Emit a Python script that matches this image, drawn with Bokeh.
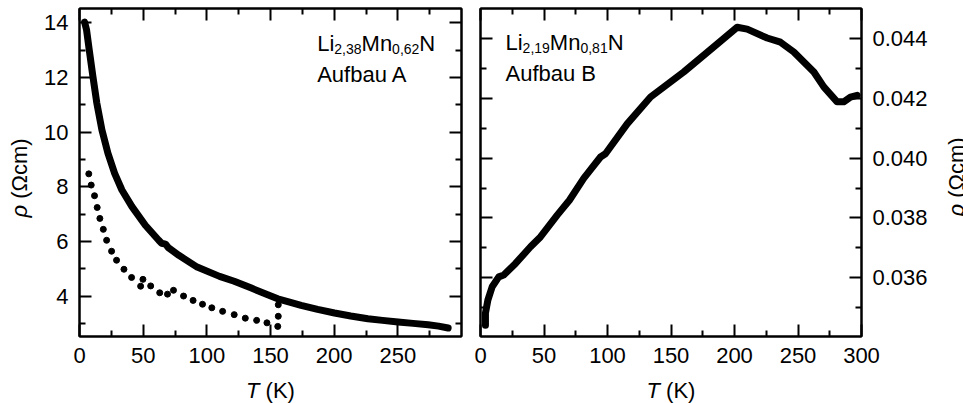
import math
from bokeh.plotting import figure
from bokeh.layouts import row, column
from bokeh.models import FixedTicker, LinearAxis, Label, Range1d, PrintfTickFormatter
from bokeh.embed import file_html
from bokeh.resources import INLINE

# ---------------- data ----------------
# Panel A: Li2,38Mn0,62N, Aufbau A  (T in K, rho in Ohm cm)
T_A = [4.0, 5.5, 7.6, 10.5, 13.6, 17.6, 22.3, 27.6, 33.3, 41.2, 51.7, 62.2, 64.5,
       67.5, 70.0, 78.0, 92.4, 110.0, 121.5, 135.0, 147.8, 155.7, 165.0, 174.0,
       187.0, 200.3, 213.0, 226.5, 238.0, 250.2, 262.0, 273.8, 282.0, 289.5]
rho_A = [14.02, 13.75, 13.02, 12.04, 11.06, 10.08, 9.23, 8.49, 7.88, 7.27, 6.59, 6.04, 5.93,
         5.90, 5.76, 5.49, 5.06, 4.72, 4.54, 4.29, 4.05, 3.90, 3.78, 3.66,
         3.51, 3.38, 3.27, 3.17, 3.11, 3.05, 3.00, 2.95, 2.90, 2.83]
# second (dotted) measurement in panel A
T_A_dots = [7.3, 9.2, 11.8, 13.9, 16.0, 18.7, 21.3, 25.2, 29.1, 34.9, 40.9, 48.0, 49.8,
            55.9, 63.0, 69.1, 73.8, 81.7, 89.2, 96.6, 103.9, 112.4, 121.5, 130.2,
            139.1, 147.2, 155.7, 156.1, 156.1]
rho_A_dots = [8.47, 8.06, 7.67, 7.24, 6.84, 6.44, 6.04, 5.64, 5.31, 4.98, 4.68, 4.36, 4.61,
              4.37, 4.12, 4.07, 4.21, 4.00, 3.84, 3.70, 3.57, 3.44, 3.32, 3.19,
              3.11, 3.02, 2.89, 3.26, 3.68]
# Panel B: Li2,19Mn0,81N, Aufbau B
T_B = [3.9, 3.9, 5.8, 9.2, 14.4, 18.3, 27.6, 39.4, 47.2, 60.4, 70.0, 81.4, 94.5, 98.4,
       115.5, 133.9, 160.0, 186.4, 202.1, 210.0, 225.7, 236.2, 246.7, 262.5, 270.3,
       280.8, 286.0, 291.3, 296.6]
rho_B = [0.0344, 0.0348, 0.03524, 0.03569, 0.03602, 0.03608, 0.03647, 0.03703, 0.03736,
         0.03809, 0.03859, 0.03933, 0.04004, 0.04015, 0.04115, 0.04205, 0.04289, 0.04383,
         0.04439, 0.04433, 0.04403, 0.04389, 0.04356, 0.04289, 0.04239, 0.04189, 0.04189,
         0.04205, 0.04211]

# ticks
x_major_A = [0, 50, 100, 150, 200, 250]
x_minor_A = [25, 75, 125, 175, 225, 275]
x_major_B = [0, 50, 100, 150, 200, 250, 300]
x_minor_B = [25, 75, 125, 175, 225, 275]
y_major_A = [4, 6, 8, 10, 12, 14]
y_minor_A = [3, 5, 7, 9, 11, 13]
y_major_B = [0.036, 0.038, 0.040, 0.042, 0.044]
y_minor_B = [0.035, 0.037, 0.039, 0.041, 0.043]

# texts
formula_A = [("Li", False), ("2,38", True), ("Mn", False), ("0,62", True), ("N", False)]
formula_B = [("Li", False), ("2,19", True), ("Mn", False), ("0,81", True), ("N", False)]
setup_A = "Aufbau A"
setup_B = "Aufbau B"
x_title = ("T", "(K)")      # italic symbol, unit (separated by a space)
y_title = ("ρ", "(Ωcm)")

# ---------------- styling ----------------
FONT = "Liberation Sans"
FS = 22
SUB_FS = 14
BASE_FIX = 8    # compensation for where the text baseline is drawn
ROT_FIX = 43    # compensation along the rotated text direction
ADV = {'L': 0.556, 'i': 0.222, 'M': 0.833, 'n': 0.556, 'N': 0.722, ',': 0.278,
       'T': 0.611, ' ': 0.278, '(': 0.333, ')': 0.333, 'K': 0.667, 'ρ': 0.57}


def adv(s, size):
    return sum(ADV.get(c, 0.556) for c in s) * size


def style_axis(ax, labels):
    ax.axis_line_color = "black"
    ax.axis_line_width = 2
    ax.major_tick_in = 12
    ax.major_tick_out = 0
    ax.minor_tick_in = 6
    ax.minor_tick_out = 0
    ax.major_tick_line_width = 2
    ax.minor_tick_line_width = 2
    ax.major_tick_line_color = "black"
    ax.minor_tick_line_color = "black"
    ax.major_label_text_font = FONT
    if labels:
        ax.major_label_text_color = "black"
        ax.major_label_text_font_size = f"{FS}px"
        ax.major_label_standoff = 11
    else:
        ax.major_label_text_color = None
        ax.major_label_text_font_size = "1px"
        ax.major_label_standoff = 0


def make_fig(width, height, xr, yr, mb_left, mb_right, mb_bottom, xmaj, xmin, ymaj, ymin,
             ylabel_side, yfmt=None):
    p = figure(width=width, height=height, x_range=Range1d(*xr), y_range=Range1d(*yr),
               x_axis_type=None, y_axis_type=None, output_backend="svg",
               toolbar_location=None, min_border_left=mb_left, min_border_right=mb_right,
               min_border_top=8, min_border_bottom=mb_bottom)
    p.outline_line_color = "black"
    p.outline_line_width = 2
    p.background_fill_color = "white"
    p.border_fill_color = "white"
    for side in ["below", "above"]:
        ax = LinearAxis(ticker=FixedTicker(ticks=xmaj, minor_ticks=xmin))
        style_axis(ax, side == "below")
        p.add_layout(ax, side)
    for side in ["left", "right"]:
        ax = LinearAxis(ticker=FixedTicker(ticks=ymaj, minor_ticks=ymin))
        if yfmt is not None:
            ax.formatter = yfmt
        style_axis(ax, side == ylabel_side)
        p.add_layout(ax, side)
    return p


def text_strip(width, height):
    s = figure(width=width, height=height, x_range=Range1d(0, width),
               y_range=Range1d(0, height), x_axis_type=None, y_axis_type=None,
               output_backend="svg", toolbar_location=None, min_border=0)
    s.outline_line_color = None
    s.background_fill_color = "white"
    s.border_fill_color = "white"
    return s


def add_text(p, x, y, text, size=FS, italic=False, angle=0.0):
    p.add_layout(Label(x=x, y=y, x_units="screen", y_units="screen", text=text,
                       text_font=FONT, text_font_size=f"{size}px",
                       text_font_style="italic" if italic else "normal",
                       text_color="black", text_align="left", text_baseline="alphabetic",
                       angle=angle))


def add_formula(p, x, y, pieces):
    for s, sub in pieces:
        if sub:
            add_text(p, x, y - 5, s, size=SUB_FS)
            x += adv(s, SUB_FS)
        else:
            add_text(p, x, y, s)
            x += adv(s, FS)


def add_vtitle(p, x_base, y_start, parts):
    # reads bottom to top, baseline on the right
    x = x_base - BASE_FIX
    y = y_start - ROT_FIX
    add_text(p, x, y, parts[0], italic=True, angle=math.pi / 2)
    add_text(p, x, y + adv(parts[0] + " ", FS), parts[1], angle=math.pi / 2)


H_MAIN = 377
W_YL, W_YR = 36, 23

# ---------------- panel A ----------------
pA = make_fig(434, H_MAIN, (0, 300), (2.52, 14.52), 43, 9, 41, x_major_A, x_minor_A,
              y_major_A, y_minor_A, "left")
pA.line(T_A, rho_A, line_width=7, line_color="black", line_join="round", line_cap="round")
pA.scatter(T_A_dots, rho_A_dots, size=6, color="black")
add_formula(pA, 237.7, 285 + BASE_FIX, formula_A)
add_text(pA, 237.7, 254.5 + BASE_FIX, setup_A)

# ---------------- panel B ----------------
pB = make_fig(470, H_MAIN, (0, 300), (0.03402, 0.04502), 10, 79, 41, x_major_B, x_minor_B,
              y_major_B, y_minor_B, "right", yfmt=PrintfTickFormatter(format="%.3f"))
pB.line(T_B, rho_B, line_width=7, line_color="black", line_join="round", line_cap="round")
add_formula(pB, 25, 286 + BASE_FIX, formula_B)
add_text(pB, 25, 255.5 + BASE_FIX, setup_B)

# ---------------- axis titles ----------------
yL = text_strip(W_YL, H_MAIN)
add_vtitle(yL, 27, 162, y_title)

yR = text_strip(W_YR, H_MAIN)
add_vtitle(yR, 24, 163, y_title)

xs = text_strip(963, 403 - H_MAIN)
tw = adv(x_title[0] + " " + x_title[1], FS)
for cx in (270, 670.5):
    x0 = cx - tw / 2
    add_text(xs, x0, 4.7 + BASE_FIX, x_title[0], italic=True)
    add_text(xs, x0 + adv(x_title[0] + " ", FS), 4.7 + BASE_FIX, x_title[1])

layout = column(row(yL, pA, pB, yR), xs)
open("out.html", "w").write(file_html(layout, INLINE))
